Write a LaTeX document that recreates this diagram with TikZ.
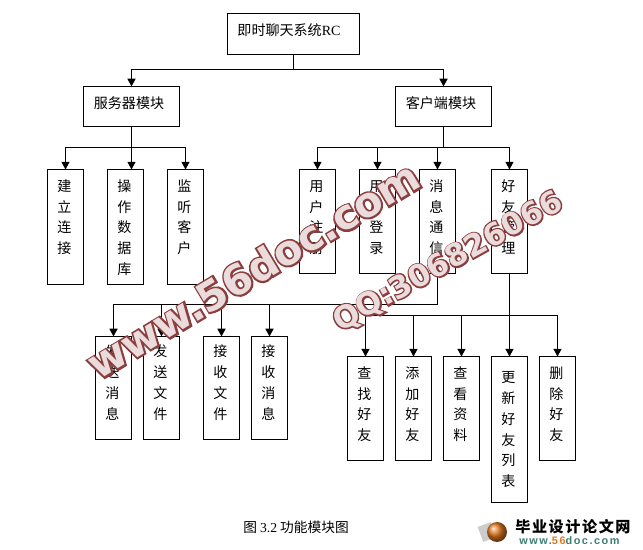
\documentclass[tikz,border=0pt]{standalone}
\usepackage{fontspec}
\usetikzlibrary{arrows.meta}
\setmainfont{Noto Sans CJK SC}
\newfontfamily\latinfont{Liberation Serif}
\newfontfamily\markfont{DejaVu Sans}[BoldFont={DejaVu Sans Bold}]
\newfontfamily\markfat{DejaVu Sans Bold}[FakeBold=9]
\newfontfamily\logofont{Liberation Sans Bold}[LetterSpace=14]
\newdimen\px
\px=0.02cm
\definecolor{markred}{RGB}{140,62,62}
\definecolor{logoteal}{RGB}{60,125,115}
\definecolor{logoorange}{RGB}{225,120,30}
\newcommand{\vcell}[3][5.4pt]{\parbox[c][#2\px][t]{36\px}{\centering\rightskip=2\px plus 1fil\vspace*{#1}\fontsize{8}{11.8}\selectfont\rule{0pt}{7pt}#3}}
\newcommand{\hcell}[4]{\parbox[c][#1\px][t]{#2\px}{\centering\vspace*{5.4pt}\fontsize{8}{11.8}\selectfont\rule{0pt}{7pt}\hspace*{#3\px}#4}}
\tikzset{
    box/.style={draw, line width=0.57pt, inner sep=0pt, outer sep=0pt},
    link/.style={line width=0.57pt},
    arrow/.style={line width=0.57pt, -{Triangle[length=4.4pt,width=4.6pt]}}
}
\begin{document}
\begin{tikzpicture}[x=0.02cm,y=-0.02cm]
        \useasboundingbox (0, 0) rectangle (643, 550);

        \node[box] (root) at (293.5, 34.2) { \hcell{41.5}{132.5}{-9}{即时聊天系统{\latinfont RC}} };
        \node[box] (server) at (131.5, 106.7) { \hcell{40.5}{96}{-5}{服务器模块} };
        \node[box] (client) at (443.5, 106.7) { \hcell{40.5}{96}{-5}{客户端模块} };

        \node[box] (connect) at (65.5, 227) { \vcell{115}{建\\立\\连\\接} };
        \node[box] (database) at (125.5, 227) { \vcell{115}{操\\作\\数\\据\\库} };
        \node[box] (listen) at (185.5, 227) { \vcell{115}{监\\听\\客\\户} };

        \node[box] (register) at (317.5, 221.5) { \vcell{104}{用\\户\\注\\册} };
        \node[box] (login) at (377.5, 221.5) { \vcell{104}{用\\户\\登\\录} };
        \node[box] (message) at (437.5, 221.5) { \vcell{104}{消\\息\\通\\信} };
        \node[box] (friends) at (509.5, 221.5) { \vcell{104}{好\\友\\管\\理} };

        \node[box] (sendmsg) at (113.5, 388.2) { \vcell[4.6pt]{103.5}{发\\送\\消\\息} };
        \node[box] (sendfile) at (161.5, 388.2) { \vcell[4.6pt]{103.5}{发\\送\\文\\件} };
        \node[box] (recvfile) at (221.5, 388.2) { \vcell[4.6pt]{103.5}{接\\收\\文\\件} };
        \node[box] (recvmsg) at (269.5, 388.2) { \vcell[4.6pt]{103.5}{接\\收\\消\\息} };

        \node[box] (find) at (365.5, 408.5) { \vcell{104}{查\\找\\好\\友} };
        \node[box] (add) at (413.5, 408.5) { \vcell{104}{添\\加\\好\\友} };
        \node[box] (profile) at (461.5, 408.5) { \vcell{104}{查\\看\\资\\料} };
        \node[box] (update) at (509.5, 429.5) { \vcell[8pt]{146}{更\\新\\好\\友\\列\\表} };
        \node[box] (delete) at (557.5, 408.5) { \vcell{104}{删\\除\\好\\友} };

        \coordinate (rootbus) at (293.5, 70);
        \coordinate (serverbus) at (131.5, 148);
        \coordinate (clientbus) at (443.5, 148);
        \coordinate (msgbus) at (437.5, 304.5);
        \coordinate (friendbus) at (509.5, 315.5);

        \draw[link] (root.south) -- (rootbus);
        \draw[arrow] (rootbus) -| (server.north);
        \draw[arrow] (rootbus) -| (client.north);

        \draw[arrow] (server.south) -- (server.south |- database.north);
        \draw[arrow] (serverbus) -| (connect.north);
        \draw[arrow] (serverbus) -| (listen.north);

        \draw[link] (client.south) -- (clientbus);
        \draw[arrow] (clientbus) -| (register.north);
        \draw[arrow] (clientbus) -| (login.north);
        \draw[arrow] (clientbus) -| (message.north);
        \draw[arrow] (clientbus) -| (friends.north);

        \draw[link] (message.south) -- (msgbus);
        \draw[arrow] (msgbus) -| (sendmsg.north);
        \draw[arrow] (msgbus) -| (sendfile.north);
        \draw[arrow] (msgbus) -| (recvfile.north);
        \draw[arrow] (msgbus) -| (recvmsg.north);

        \draw[arrow] (friends.south) -- (update.north);
        \draw[arrow] (friendbus) -| (find.north);
        \draw[arrow] (friendbus) -| (add.north);
        \draw[arrow] (friendbus) -| (profile.north);
        \draw[arrow] (friendbus) -| (delete.north);

        \node (caption) at (296, 527) { \fontsize{7.8}{9}\selectfont 图~{\latinfont 3.2}~功能模块图 };

        \node[markred, rotate=31] (siteback) at (253, 270) { \fontsize{23.5}{24}\selectfont\markfat www.56doc.com };
        \node[white, opacity=0.82, rotate=31] (sitefront) at (253, 270) { \fontsize{23.5}{24}\selectfont\markfont\bfseries www.56doc.com };
        \node[markred, rotate=29] (qqback) at (448, 262) { \fontsize{17.5}{18}\selectfont\markfat QQ:306826066 };
        \node[white, opacity=0.82, rotate=29] (qqfront) at (448, 262) { \fontsize{17.5}{18}\selectfont\markfont\bfseries QQ:306826066 };

        \node[fill=black!20, minimum width=14\px, minimum height=16\px, rotate=20, inner sep=0pt] (logobook) at (487, 532) {};
        \node[circle, ball color=logoorange, minimum size=20\px, inner sep=0pt] (logoball) at (497, 532) {};
        \node[anchor=west, inner sep=0pt] (logotitle) at (515, 527) { \fontsize{8.6}{10}\selectfont\bfseries 毕\kern0.9pt 业\kern0.9pt 设\kern0.9pt 计\kern0.9pt 论\kern0.9pt 文\kern0.9pt 网 };
        \node[anchor=west, inner sep=0pt, logoteal] (logosite) at (519, 541) { \fontsize{6.2}{7}\selectfont\logofont www.{\color{logoorange}56}doc.com };
    \end{tikzpicture}
\end{document}
